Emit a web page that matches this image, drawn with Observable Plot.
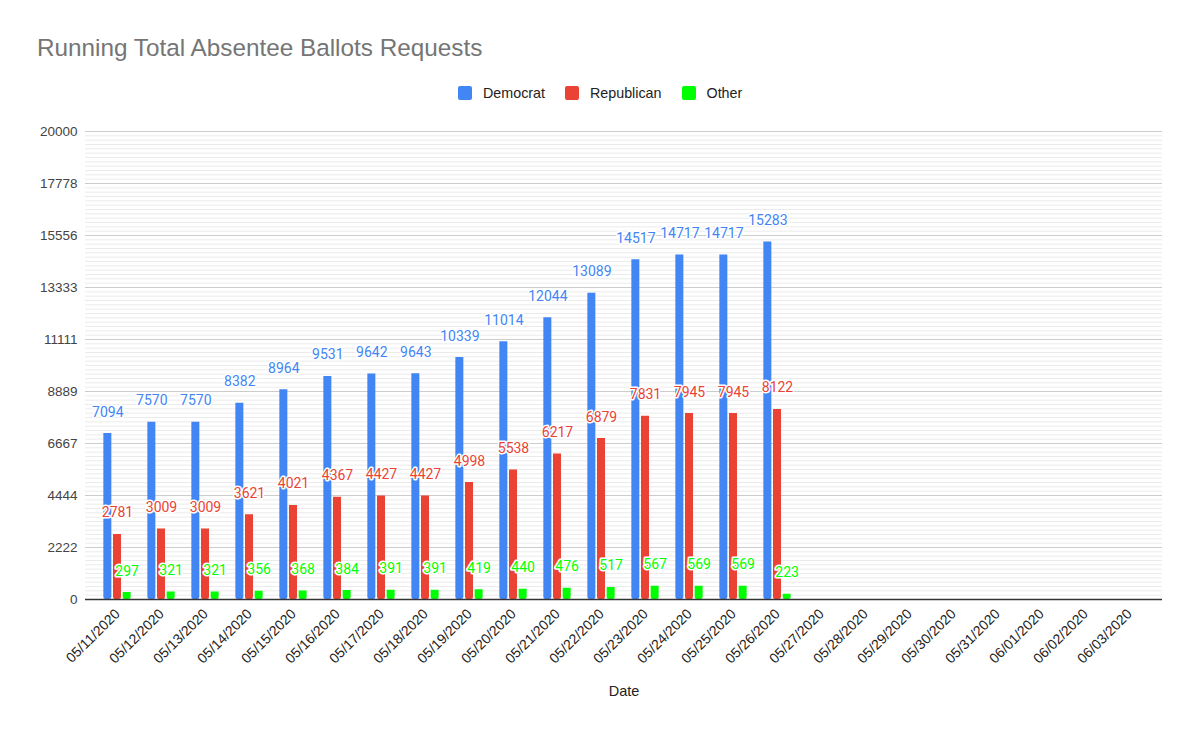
<!DOCTYPE html>
<html>
<head>
<meta charset="utf-8">
<script src="https://cdn.jsdelivr.net/npm/d3@7"></script>
<script src="https://cdn.jsdelivr.net/npm/@observablehq/plot@0.6"></script>
<style>
  body { margin: 0; background: #fff; }
  #wrap { position: relative; width: 1200px; height: 737px; overflow: hidden; }
  #chart { position: absolute; left: 0; top: 0; }
  #title { position: absolute; left: 37px; top: 35.5px; font: 24.3px/24px "Liberation Sans", Arial, sans-serif; color: #757575; white-space: nowrap; }
  #legend { position: absolute; left: 458px; top: 85.7px; height: 14.3px; display: flex; align-items: center; font: 14.3px "Liberation Sans", Arial, sans-serif; color: #222; white-space: nowrap; }
  .item { display: flex; align-items: center; margin-right: 20px; }
  .sw { width: 14px; height: 14px; border-radius: 2px; margin-right: 11px; }
</style>
</head>
<body>
<div id="wrap">
  <div id="chart"></div>
  <div id="title">Running Total Absentee Ballots Requests</div>
  <div id="legend"></div>
</div>
<script>
const dates = ["05/11/2020","05/12/2020","05/13/2020","05/14/2020","05/15/2020","05/16/2020","05/17/2020","05/18/2020","05/19/2020","05/20/2020","05/21/2020","05/22/2020","05/23/2020","05/24/2020","05/25/2020","05/26/2020","05/27/2020","05/28/2020","05/29/2020","05/30/2020","05/31/2020","06/01/2020","06/02/2020","06/03/2020"];
const parties = ["Democrat", "Republican", "Other"];
const colors = ["#4285F4", "#EA4335", "#00FF00"];
const democrat = [7094, 7570, 7570, 8382, 8964, 9531, 9642, 9643, 10339, 11014, 12044, 13089, 14517, 14717, 14717, 15283];
const republican = [2781, 3009, 3009, 3621, 4021, 4367, 4427, 4427, 4998, 5538, 6217, 6879, 7831, 7945, 7945, 8122];
const other = [297, 321, 321, 356, 368, 384, 391, 391, 419, 440, 476, 517, 567, 569, 569, 223];
const yTicks = [0, 2222, 4444, 6667, 8889, 11111, 13333, 15556, 17778, 20000];

const series = [democrat, republican, other];
const rows = [];
series.forEach((vals, s) => vals.forEach((v, i) => rows.push({date: dates[i], party: parties[s], value: v})));

const minor = d3.range(0, 109).map(i => i * 20000 / 108);
const offsets = [-9.65, 0, 9.65];

const barMarks = parties.map((p, s) =>
  Plot.barY(rows.filter(d => d.party === p), {x: "date", y: "value", fill: "party", dx: offsets[s], ry2: 2}));
const labelMarks = parties.map((p, s) =>
  Plot.text(rows.filter(d => d.party === p), {x: "date", y: "value", text: d => String(d.value), fill: "party",
    dx: offsets[s], dy: -17, lineAnchor: "bottom", stroke: "white", strokeWidth: 3,
    fontSize: 14, fontFamily: "Roboto"}));

const chart = Plot.plot({
  width: 1200,
  height: 737,
  marginLeft: 85,
  marginRight: 38,
  marginTop: 131,
  marginBottom: 138,
  style: {fontFamily: "'Liberation Sans', Arial, sans-serif", background: "#fff"},
  x: {domain: dates, paddingInner: 0.81, paddingOuter: 0.575, label: null},
  y: {domain: [0, 20000], label: null},
  color: {domain: parties, range: colors},
  marks: [
    Plot.ruleY(minor, {stroke: "#ebebeb", strokeWidth: 1}),
    Plot.ruleY(yTicks, {stroke: "#cccccc", strokeWidth: 1}),
    ...barMarks,
    Plot.ruleY([0], {stroke: "#333", strokeWidth: 1.5}),
    ...labelMarks,
    Plot.axisY({ticks: yTicks, tickSize: 0, tickPadding: 8, tickFormat: d => String(d), fontSize: 13.5, fill: "#444", label: null}),
    Plot.axisX({tickRotate: -45, tickSize: 0, tickPadding: 12, fontSize: 14, fill: "#222", label: null}),
    Plot.text(["Date"], {frameAnchor: "bottom", dy: 96, text: d => d, fontSize: 14.5, fill: "#222"})
  ]
});
document.getElementById("chart").appendChild(chart);

const legend = document.getElementById("legend");
parties.forEach((p, i) => {
  const item = document.createElement("div");
  item.className = "item";
  const sw = document.createElement("div");
  sw.className = "sw";
  sw.style.background = colors[i];
  const label = document.createElement("span");
  label.textContent = p;
  item.appendChild(sw);
  item.appendChild(label);
  legend.appendChild(item);
});
</script>
</body>
</html>
